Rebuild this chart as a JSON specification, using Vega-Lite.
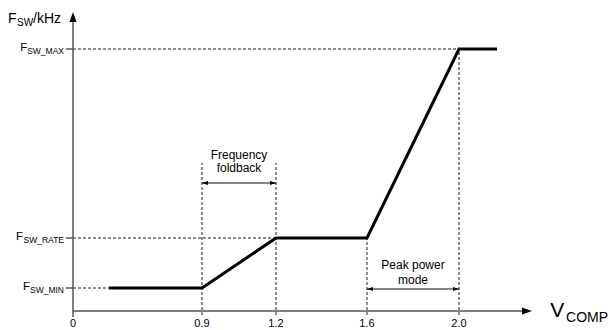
{
  "$schema": "https://vega.github.io/schema/vega-lite/v6.json",
  "width": 611,
  "height": 330,
  "autosize": "none",
  "padding": 0,
  "background": "white",
  "config": {"view": {"stroke": null}, "text": {"font": "Liberation Sans", "color": "black"}},
  "datasets": {
    "curve": [
      {"v": 0.25, "f": 23, "o": 1},
      {"v": 0.9, "f": 23, "o": 2},
      {"v": 1.2, "f": 73, "o": 3},
      {"v": 1.6, "f": 73, "o": 4},
      {"v": 2.0, "f": 262, "o": 5},
      {"v": 2.165, "f": 262, "o": 6}
    ],
    "dashed": [
      {"v": 0, "v2": 0.25, "f": 23, "f2": 23},
      {"v": 0, "v2": 1.2, "f": 73, "f2": 73},
      {"v": 0, "v2": 2.0, "f": 262, "f2": 262},
      {"v": 0.9, "v2": 0.9, "f": -4, "f2": 148},
      {"v": 1.2, "v2": 1.2, "f": -4, "f2": 148},
      {"v": 1.6, "v2": 1.6, "f": -4, "f2": 73},
      {"v": 2.0, "v2": 2.0, "f": -4, "f2": 262}
    ],
    "axes": [
      {"v": 0, "v2": 0, "f": -6, "f2": 294},
      {"v": 0, "v2": 2.3, "f": 0, "f2": 0},
      {"v": -0.049, "v2": 0, "f": 23, "f2": 23},
      {"v": -0.049, "v2": 0, "f": 73, "f2": 73},
      {"v": -0.049, "v2": 0, "f": 262, "f2": 262}
    ],
    "brackets": [
      {"v": 0.9, "v2": 1.2, "f": 128, "f2": 128},
      {"v": 1.6, "v2": 2.0, "f": 22, "f2": 22}
    ],
    "axisArrows": [
      {"v": 0, "f": 299, "dir": "up"},
      {"v": 2.317, "f": 0, "dir": "right"}
    ],
    "bracketArrows": [
      {"v": 0.9, "f": 128, "dir": "left"},
      {"v": 1.2, "f": 128, "dir": "right"},
      {"v": 1.6, "f": 22, "dir": "left"},
      {"v": 2.0, "f": 22, "dir": "right"}
    ],
    "titleMain": [
      {"v": -0.4535, "f": 288, "t": "F"},
      {"v": -0.279, "f": 288, "t": "/kHz"}
    ],
    "titleSub": [
      {"v": -0.391, "f": 285, "t": "SW"}
    ],
    "levelMain": [
      {"v": -0.3195, "f": 263, "t": "F"},
      {"v": -0.3495, "f": 74, "t": "F"},
      {"v": -0.300, "f": 24, "t": "F"}
    ],
    "levelSub": [
      {"v": -0.0628, "f": 260, "t": "SW_MAX"},
      {"v": -0.0628, "f": 71, "t": "SW_RATE"},
      {"v": -0.0628, "f": 21, "t": "SW_MIN"}
    ],
    "ticks": [
      {"v": 0, "f": -16, "t": "0"},
      {"v": 0.9, "f": -16, "t": "0.9"},
      {"v": 1.2, "f": -16, "t": "1.2"},
      {"v": 1.6, "f": -16, "t": "1.6"},
      {"v": 2.0, "f": -16, "t": "2.0"}
    ],
    "notes": [
      {"v": 1.05, "f": 152, "t": "Frequency"},
      {"v": 1.05, "f": 139, "t": "foldback"},
      {"v": 1.8, "f": 42, "t": "Peak power"},
      {"v": 1.8, "f": 27, "t": "mode"}
    ],
    "vMain": [{"v": 2.396, "f": -6, "t": "V"}],
    "vSub": [{"v": 2.465, "f": -11, "t": "COMP"}]
  },
  "layer": [
    {
      "data": {"name": "dashed"},
      "mark": {"type": "rule", "strokeDash": [3, 2], "strokeWidth": 0.9, "color": "#000"},
      "encoding": {
        "x": {"field": "v", "type": "quantitative", "axis": null, "scale": {"domain": [-0.51, 0, 0.9, 1.2, 1.6, 2.0, 2.66], "range": [0, 73, 202, 276, 367, 459, 611], "zero": false, "nice": false}},
        "x2": {"field": "v2"},
        "y": {"field": "f", "type": "quantitative", "axis": null, "scale": {"domain": [-19, 311], "zero": false, "nice": false}},
        "y2": {"field": "f2"}
      }
    },
    {
      "data": {"name": "axes"},
      "mark": {"type": "rule", "strokeWidth": 1.5, "color": "#555"},
      "encoding": {
        "x": {"field": "v", "type": "quantitative"},
        "x2": {"field": "v2"},
        "y": {"field": "f", "type": "quantitative"},
        "y2": {"field": "f2"}
      }
    },
    {
      "data": {"name": "brackets"},
      "mark": {"type": "rule", "strokeWidth": 1, "color": "#111"},
      "encoding": {
        "x": {"field": "v", "type": "quantitative"},
        "x2": {"field": "v2"},
        "y": {"field": "f", "type": "quantitative"},
        "y2": {"field": "f2"}
      }
    },
    {
      "data": {"name": "curve"},
      "mark": {"type": "line", "strokeWidth": 3, "color": "black", "strokeJoin": "miter"},
      "encoding": {
        "x": {"field": "v", "type": "quantitative"},
        "y": {"field": "f", "type": "quantitative"},
        "order": {"field": "o"}
      }
    },
    {
      "data": {"name": "axisArrows"},
      "mark": {"type": "point", "filled": true, "opacity": 1, "size": 100, "color": "black"},
      "encoding": {
        "x": {"field": "v", "type": "quantitative"},
        "y": {"field": "f", "type": "quantitative"},
        "shape": {"field": "dir", "type": "nominal", "legend": null, "scale": {"domain": ["up", "right", "left"], "range": ["M0,0L0.7,2L-0.7,2Z", "M0,0L-2,0.7L-2,-0.7Z", "M0,0L2,0.7L2,-0.7Z"]}}
      }
    },
    {
      "data": {"name": "bracketArrows"},
      "mark": {"type": "point", "filled": true, "opacity": 1, "size": 36, "color": "black"},
      "encoding": {
        "x": {"field": "v", "type": "quantitative"},
        "y": {"field": "f", "type": "quantitative"},
        "shape": {"field": "dir", "type": "nominal", "legend": null}
      }
    },
    {
      "data": {"name": "titleMain"},
      "mark": {"type": "text", "fontSize": 14, "align": "left", "baseline": "alphabetic"},
      "encoding": {"x": {"field": "v", "type": "quantitative"}, "y": {"field": "f", "type": "quantitative"}, "text": {"field": "t"}}
    },
    {
      "data": {"name": "titleSub"},
      "mark": {"type": "text", "fontSize": 10, "align": "left", "baseline": "alphabetic"},
      "encoding": {"x": {"field": "v", "type": "quantitative"}, "y": {"field": "f", "type": "quantitative"}, "text": {"field": "t"}}
    },
    {
      "data": {"name": "levelMain"},
      "mark": {"type": "text", "fontSize": 11.5, "align": "right", "baseline": "middle"},
      "encoding": {"x": {"field": "v", "type": "quantitative"}, "y": {"field": "f", "type": "quantitative"}, "text": {"field": "t"}}
    },
    {
      "data": {"name": "levelSub"},
      "mark": {"type": "text", "fontSize": 8.5, "align": "right", "baseline": "middle"},
      "encoding": {"x": {"field": "v", "type": "quantitative"}, "y": {"field": "f", "type": "quantitative"}, "text": {"field": "t"}}
    },
    {
      "data": {"name": "ticks"},
      "mark": {"type": "text", "fontSize": 11, "align": "center", "baseline": "alphabetic"},
      "encoding": {"x": {"field": "v", "type": "quantitative"}, "y": {"field": "f", "type": "quantitative"}, "text": {"field": "t"}}
    },
    {
      "data": {"name": "notes"},
      "mark": {"type": "text", "fontSize": 12, "align": "center", "baseline": "alphabetic"},
      "encoding": {"x": {"field": "v", "type": "quantitative"}, "y": {"field": "f", "type": "quantitative"}, "text": {"field": "t"}}
    },
    {
      "data": {"name": "vMain"},
      "mark": {"type": "text", "fontSize": 21, "align": "left", "baseline": "alphabetic"},
      "encoding": {"x": {"field": "v", "type": "quantitative"}, "y": {"field": "f", "type": "quantitative"}, "text": {"field": "t"}}
    },
    {
      "data": {"name": "vSub"},
      "mark": {"type": "text", "fontSize": 14, "align": "left", "baseline": "alphabetic"},
      "encoding": {"x": {"field": "v", "type": "quantitative"}, "y": {"field": "f", "type": "quantitative"}, "text": {"field": "t"}}
    }
  ]
}
